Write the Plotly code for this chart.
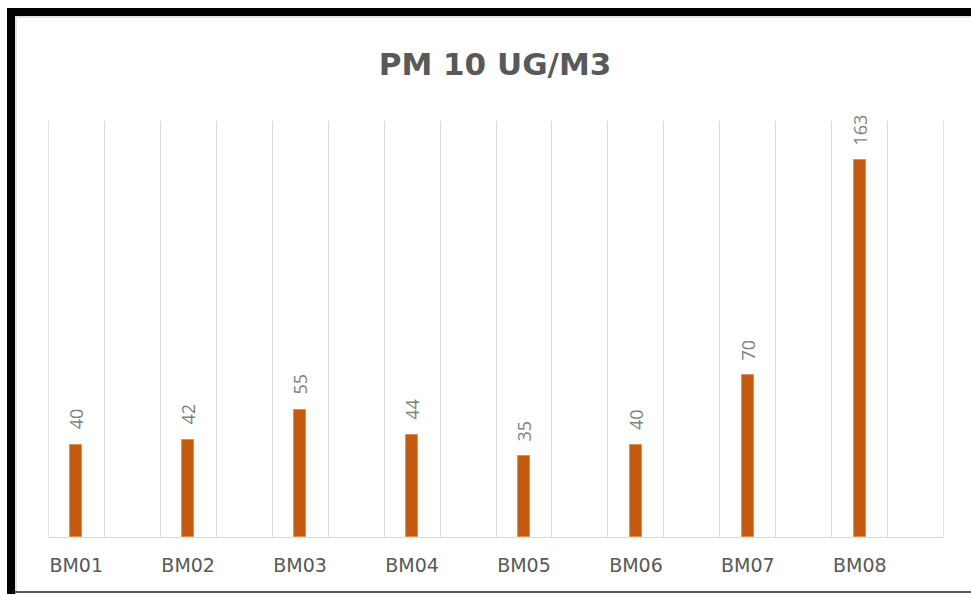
import plotly.graph_objects as go

# Measured PM10 concentrations per sampling point
categories = ["BM01", "BM02", "BM03", "BM04", "BM05", "BM06", "BM07", "BM08"]
pm10_values = [40, 42, 55, 44, 35, 40, 70, 163]

W, H = 971, 594
ML, MR, MT, MB = 48, 27, 121, 57
PW, PH = W - ML - MR, H - MT - MB

# each category occupies one unit; the bar sits in the left half of it
xpos = [i + 0.25 for i in range(len(categories))]

fig = go.Figure()
fig.add_trace(go.Bar(
    x=xpos, y=pm10_values, width=0.107,
    marker=dict(color="#C55A11", line=dict(color="#E48A52", width=1)),
    hoverinfo="skip", showlegend=False,
))

# rotated value labels above each bar
for x, v in zip(xpos, pm10_values):
    fig.add_annotation(
        x=x, y=v, xref="x", yref="y", text=str(v), showarrow=False,
        textangle=-90, yanchor="bottom", yshift=13,
        font=dict(family="Open Sans", size=18, color="#7F7F7F"),
    )


def px_x(p):
    return (p - ML) / PW


def px_y(p):
    return (H - MB - p) / PH


# frame around the chart: heavy black top and left edges, light inner rule,
# thin dark rule along the bottom
shapes = [
    dict(type="rect", xref="paper", yref="paper", x0=px_x(7), x1=px_x(W + 5),
         y0=px_y(16), y1=px_y(8), fillcolor="black", line=dict(width=0), layer="above"),
    dict(type="rect", xref="paper", yref="paper", x0=px_x(7), x1=px_x(15),
         y0=px_y(H + 5), y1=px_y(8), fillcolor="black", line=dict(width=0), layer="above"),
    dict(type="rect", xref="paper", yref="paper", x0=px_x(15), x1=px_x(W + 5),
         y0=px_y(18), y1=px_y(16), fillcolor="#E3E3E3", line=dict(width=0), layer="above"),
    dict(type="rect", xref="paper", yref="paper", x0=px_x(15), x1=px_x(17),
         y0=px_y(H + 5), y1=px_y(16), fillcolor="#E3E3E3", line=dict(width=0), layer="above"),
    dict(type="rect", xref="paper", yref="paper", x0=px_x(15), x1=px_x(W + 5),
         y0=px_y(593), y1=px_y(591), fillcolor="#5A5A5A", line=dict(width=0), layer="above"),
]

# outer vertical gridlines at both ends of the category axis
for edge in (0, len(categories)):
    shapes.append(dict(type="line", xref="x", yref="paper", x0=edge, x1=edge,
                       y0=0, y1=1, line=dict(color="#D9D9D9", width=1), layer="below"))

fig.update_layout(
    width=W, height=H,
    margin=dict(l=ML, r=MR, t=MT, b=MB, pad=0),
    paper_bgcolor="white", plot_bgcolor="white",
    title=dict(
        text="<b>PM 10 UG/M3</b>", x=495 / W, xanchor="center",
        y=1 - 64 / H, yanchor="middle", xref="container", yref="container",
        font=dict(family="DejaVu Sans", size=31, color="#595959"),
    ),
    xaxis=dict(
        range=[-0.002, len(categories) + 0.002], tickmode="array", tickvals=xpos,
        ticktext=categories, showgrid=False, zeroline=False,
        showline=True, linecolor="#D9D9D9", linewidth=1,
        ticks="outside", ticklen=11, tickcolor="rgba(0,0,0,0)",
        tickfont=dict(family="DejaVu Sans", size=19, color="#595959"),
        minor=dict(tick0=0, dtick=0.5, showgrid=True, gridcolor="#D9D9D9",
                   gridwidth=1, ticks=""),
        fixedrange=True,
    ),
    yaxis=dict(
        range=[0, 180], showgrid=False, zeroline=False, showticklabels=False,
        showline=False, fixedrange=True,
    ),
    shapes=shapes,
    bargap=0,
)

fig.write_html("out.html")
